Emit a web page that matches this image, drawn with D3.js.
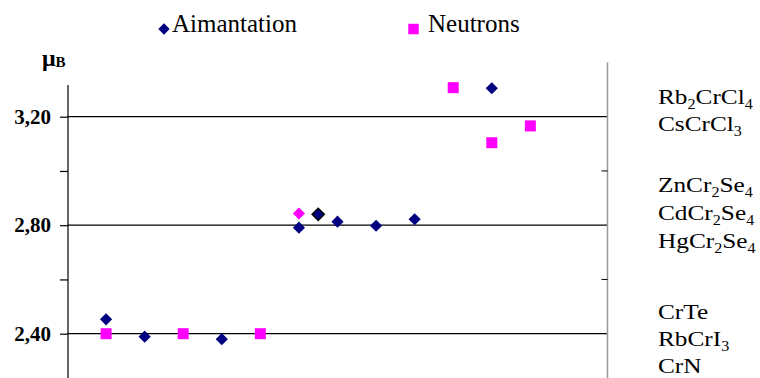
<!DOCTYPE html>
<html>
<head>
<meta charset="utf-8">
<script src="https://cdn.jsdelivr.net/npm/d3@7"></script>
<style>
  body { margin: 0; background: #fff; }
  svg { display: block; }
</style>
</head>
<body>
<div id="chart"></div>
<script>
"use strict";

// series: position on the x axis (1..12) and moment in µB
const aimantationX = [1, 2, 4, 6, 7, 8, 9, 11];
const aimantationV = [2.453, 2.389, 2.380, 2.791, 2.813, 2.798, 2.822, 3.305];
const neutronsX = [1, 3, 5, 10, 11, 12];
const neutronsV = [2.40, 2.40, 2.40, 3.307, 3.104, 3.166];
// odd points: one pink diamond and one outlined diamond
const pinkDiamondX = [6];
const pinkDiamondV = [2.843];
const outlinedX = [6.5];
const outlinedV = [2.840];

const yTicks = [2.4, 2.6, 2.8, 3.0, 3.2];
const yLabels = { 2.4: "2,40", 2.8: "2,80", 3.2: "3,20" };
const gridValues = [2.4, 2.8, 3.2];

// compound labels, groups from top to bottom ([text, subscript] pieces)
const compounds = [
  [["Rb", ""], ["2", "sub"], ["CrCl", ""], ["4", "sub"]],
  [["CsCrCl", ""], ["3", "sub"]],
  [["ZnCr", ""], ["2", "sub"], ["Se", ""], ["4", "sub"]],
  [["CdCr", ""], ["2", "sub"], ["Se", ""], ["4", "sub"]],
  [["HgCr", ""], ["2", "sub"], ["Se", ""], ["4", "sub"]],
  [["CrTe", ""]],
  [["RbCrI", ""], ["3", "sub"]],
  [["CrN", ""]]
];
const compoundY = [104, 131, 192, 220, 248, 319, 346, 373];

const navy = "#000080";
const pink = "#ff00ff";
const serif = "'Liberation Serif', 'Times New Roman', serif";

const width = 760, height = 378;

const svg = d3.select("#chart")
  .append("svg")
  .attr("width", width)
  .attr("height", height)
  .attr("font-family", serif);

const x = d3.scaleLinear().domain([0, 14]).range([67.5, 607.5]);
const y = d3.scaleLinear().domain([2.4, 3.2]).range([333.7, 116.7]);

// gridlines
svg.selectAll(".grid")
  .data(gridValues)
  .join("line")
  .attr("x1", x(0)).attr("x2", x(14))
  .attr("y1", d => y(d)).attr("y2", d => y(d))
  .attr("stroke", "#000").attr("stroke-width", 1.2);

// right frame line
svg.append("line")
  .attr("x1", x(14)).attr("x2", x(14))
  .attr("y1", y(3.40)).attr("y2", height)
  .attr("stroke", "#999").attr("stroke-width", 1.5);

// small ticks on the right line
svg.selectAll(".rtick")
  .data([2.6, 3.0])
  .join("line")
  .attr("x1", x(14) - 6).attr("x2", x(14))
  .attr("y1", d => y(d)).attr("y2", d => y(d))
  .attr("stroke", "#000");

// left axis
const yAxis = d3.axisLeft(y)
  .tickValues(yTicks)
  .tickSize(8)
  .tickPadding(9)
  .tickFormat(d => yLabels[d] || "");

const ax = svg.append("g")
  .attr("transform", `translate(${x(0) + 0.5},0)`)
  .call(yAxis)
  .attr("font-family", serif)
  .attr("font-size", 21)
  .attr("font-weight", "bold");
ax.select(".domain").remove();
ax.selectAll("line").attr("stroke", "#000").attr("stroke-width", 1.2);
ax.selectAll("text").attr("fill", "#000");

svg.append("line")
  .attr("x1", x(0) + 0.5).attr("x2", x(0) + 0.5)
  .attr("y1", y(3.317)).attr("y2", height)
  .attr("stroke", "#000").attr("stroke-width", 1.2);

// unit label
const unit = svg.append("text")
  .attr("x", 42).attr("y", 66)
  .attr("font-weight", "bold")
  .attr("font-size", 24);
unit.append("tspan").text("\u03bc");
unit.append("tspan").text("B").attr("font-size", 15).attr("dy", 1);

// markers
const diamond = d3.symbol().type(d3.symbolSquare).size(74);
const square = d3.symbol().type(d3.symbolSquare).size(121);

const zip = (xs, vs) => xs.map((d, i) => ({ x: d, v: vs[i] }));

svg.selectAll(".aim")
  .data(zip(aimantationX, aimantationV))
  .join("path")
  .attr("d", diamond)
  .attr("transform", d => `translate(${x(d.x)},${y(d.v)}) rotate(45)`)
  .attr("fill", navy);

svg.selectAll(".neu")
  .data(zip(neutronsX, neutronsV))
  .join("path")
  .attr("d", square)
  .attr("transform", d => `translate(${x(d.x)},${y(d.v)})`)
  .attr("fill", pink);

svg.selectAll(".pinkd")
  .data(zip(pinkDiamondX, pinkDiamondV))
  .join("path")
  .attr("d", diamond)
  .attr("transform", d => `translate(${x(d.x)},${y(d.v)}) rotate(45)`)
  .attr("fill", pink);

svg.selectAll(".outl")
  .data(zip(outlinedX, outlinedV))
  .join("path")
  .attr("d", diamond)
  .attr("transform", d => `translate(${x(d.x)},${y(d.v)}) rotate(45)`)
  .attr("fill", navy)
  .attr("stroke", "#000")
  .attr("stroke-width", 1.5);

// legend
svg.append("path")
  .attr("d", d3.symbol().type(d3.symbolSquare).size(64))
  .attr("transform", "translate(164,29) rotate(45)")
  .attr("fill", navy);
svg.append("text")
  .attr("x", 172).attr("y", 32)
  .attr("font-size", 25)
  .text("Aimantation");

svg.append("path")
  .attr("d", d3.symbol().type(d3.symbolSquare).size(110))
  .attr("transform", "translate(413.5,29)")
  .attr("fill", pink);
svg.append("text")
  .attr("x", 428).attr("y", 32)
  .attr("font-size", 25)
  .text("Neutrons");

// compound names at the right
const lab = svg.append("g");
compounds.forEach((parts, i) => {
  const t = lab.append("text")
    .attr("transform", `translate(658,${compoundY[i]}) scale(1.15,1)`)
    .attr("font-size", 22);
  let down = false;
  parts.forEach(([s, kind]) => {
    const ts = t.append("tspan").text(s);
    if (kind === "sub") { ts.attr("font-size", 14).attr("dy", 5); down = true; }
    else if (down) { ts.attr("dy", -5); down = false; }
  });
});
</script>
</body>
</html>
